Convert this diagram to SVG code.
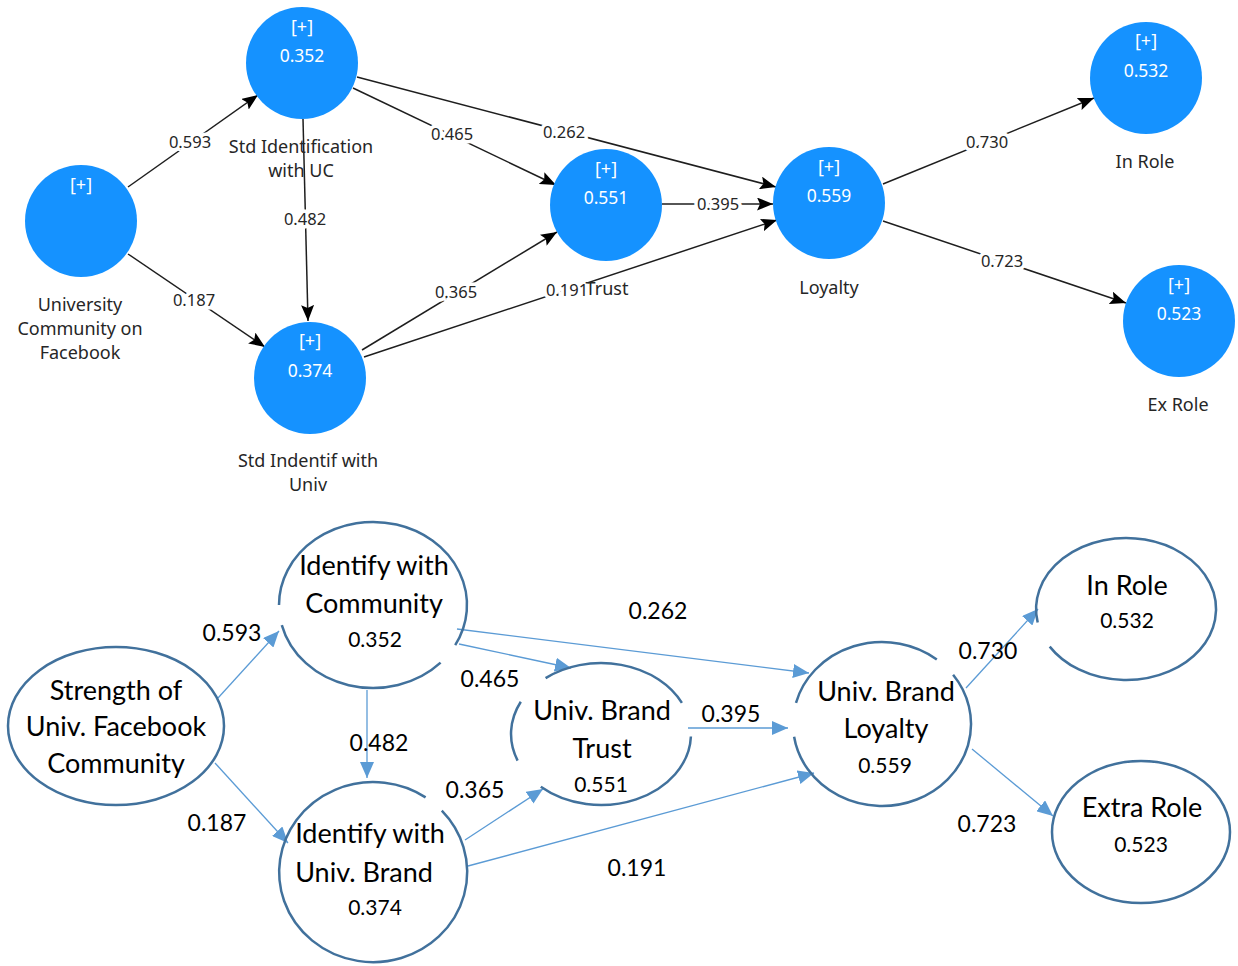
<svg xmlns="http://www.w3.org/2000/svg" width="1238" height="966" viewBox="0 0 1238 966">
<defs>
<style>
.tc{fill:#1592ff;}
.ti{font-family:"Noto Sans","Open Sans",sans-serif;font-size:17.5px;fill:#ffffff;text-anchor:middle;}
.tb{font-family:"Noto Sans","Open Sans",sans-serif;font-size:18px;fill:#ffffff;text-anchor:middle;}
.tl{font-family:"Noto Sans","Open Sans",sans-serif;font-size:18px;fill:#262626;text-anchor:middle;}
.te{font-family:"Noto Sans","Open Sans",sans-serif;font-size:16.5px;fill:#262626;text-anchor:middle;stroke:#ffffff;stroke-width:7;stroke-linejoin:round;paint-order:stroke;}
.tline{stroke:#1e1e1e;stroke-width:1.5;fill:none;marker-end:url(#ab);}
.be{fill:none;stroke:#41719c;stroke-width:2.5;}
.bn{font-family:Lato,"Open Sans",sans-serif;font-size:27px;fill:#000;text-anchor:middle;}
.bv{font-family:Lato,"Open Sans",sans-serif;font-size:21px;fill:#000;text-anchor:middle;}
.bl{font-family:Lato,"Open Sans",sans-serif;font-size:23px;fill:#000;text-anchor:middle;}
.bline{stroke:#5b9bd5;stroke-width:1.3;fill:none;marker-end:url(#aw);}
</style>
<marker id="ab" markerUnits="userSpaceOnUse" markerWidth="17" markerHeight="13" refX="16" refY="6.5" orient="auto">
<path d="M0,0 L16,6.5 L0,13 L3,6.5 z" fill="#000"/>
</marker>
<marker id="aw" markerUnits="userSpaceOnUse" markerWidth="16" markerHeight="14" refX="16" refY="7" orient="auto">
<path d="M0,0 L16,7 L0,14 z" fill="#5b9bd5"/>
</marker>
</defs>
<rect width="1238" height="966" fill="#ffffff"/>

<!-- TOP: connectors -->
<g id="top-connectors">
<line class="tline" x1="128" y1="187" x2="258" y2="95"/>
<line class="tline" x1="128" y1="254" x2="265" y2="347"/>
<line class="tline" x1="303" y1="119" x2="308" y2="321"/>
<line class="tline" x1="353" y1="88" x2="556" y2="185"/>
<line class="tline" x1="357" y1="77" x2="776" y2="187"/>
<line class="tline" x1="362" y1="350" x2="557" y2="232"/>
<line class="tline" x1="364" y1="357" x2="777" y2="220"/>
<line class="tline" x1="662" y1="204" x2="773" y2="204"/>
<line class="tline" x1="883" y1="184" x2="1094" y2="98"/>
<line class="tline" x1="883" y1="221" x2="1126" y2="303"/>
<text class="te" x="190" y="148">0.593</text>
<text class="te" x="194" y="306">0.187</text>
<text class="te" x="305" y="225">0.482</text>
<text class="te" x="452" y="140">0.465</text>
<text class="te" x="564" y="138">0.262</text>
<text class="te" x="456" y="298">0.365</text>
<text class="te" x="567" y="296">0.191</text>
<text class="te" x="718" y="210">0.395</text>
<text class="te" x="987" y="148">0.730</text>
<text class="te" x="1002" y="267">0.723</text>
</g>

<!-- TOP: nodes -->
<g id="top-ucf">
<circle class="tc" cx="81" cy="221" r="56"/>
<text class="tb" x="81" y="191">[+]</text>
<text class="tl" x="80" y="311">University</text>
<text class="tl" x="80" y="335">Community on</text>
<text class="tl" x="80" y="359">Facebook</text>
</g>
<g id="top-idc">
<circle class="tc" cx="302" cy="63" r="56"/>
<text class="tb" x="302" y="33">[+]</text>
<text class="ti" x="302" y="62">0.352</text>
<text class="tl" x="301" y="153">Std Identification</text>
<text class="tl" x="301" y="177">with UC</text>
</g>
<g id="top-idu">
<circle class="tc" cx="310" cy="378" r="56"/>
<text class="tb" x="310" y="347">[+]</text>
<text class="ti" x="310" y="377">0.374</text>
<text class="tl" x="308" y="467">Std Indentif with</text>
<text class="tl" x="308" y="491">Univ</text>
</g>
<g id="top-trust">
<circle class="tc" cx="606" cy="205" r="56"/>
<text class="tb" x="606" y="175">[+]</text>
<text class="ti" x="606" y="204">0.551</text>
<text class="tl" x="607" y="295">Trust</text>
</g>
<g id="top-loyalty">
<circle class="tc" cx="829" cy="203" r="56"/>
<text class="tb" x="829" y="173">[+]</text>
<text class="ti" x="829" y="202">0.559</text>
<text class="tl" x="829" y="294">Loyalty</text>
</g>
<g id="top-inrole">
<circle class="tc" cx="1146" cy="78" r="56"/>
<text class="tb" x="1146" y="47">[+]</text>
<text class="ti" x="1146" y="77">0.532</text>
<text class="tl" x="1145" y="168">In Role</text>
</g>
<g id="top-exrole">
<circle class="tc" cx="1179" cy="321" r="56"/>
<text class="tb" x="1179" y="291">[+]</text>
<text class="ti" x="1179" y="320">0.523</text>
<text class="tl" x="1178" y="411">Ex Role</text>
</g>

<!-- BOTTOM: connectors -->
<g id="bottom-connectors">
<line class="bline" x1="218" y1="698" x2="279" y2="631"/>
<line class="bline" x1="215" y1="763" x2="288" y2="843"/>
<line class="bline" x1="367" y1="690" x2="367" y2="778"/>
<line class="bline" x1="459" y1="644" x2="571" y2="668"/>
<line class="bline" x1="457" y1="629" x2="809" y2="673"/>
<line class="bline" x1="465" y1="840" x2="543" y2="789"/>
<line class="bline" x1="468" y1="866" x2="814" y2="773"/>
<line class="bline" x1="688" y1="728" x2="788" y2="728"/>
<line class="bline" x1="966" y1="688" x2="1038" y2="609"/>
<line class="bline" x1="972" y1="749" x2="1053" y2="816"/>
<text class="bl" x="232" y="641">0.593</text>
<text class="bl" x="217" y="831">0.187</text>
<text class="bl" x="379" y="751">0.482</text>
<text class="bl" x="490" y="687">0.465</text>
<text class="bl" x="658" y="619">0.262</text>
<text class="bl" x="475" y="798">0.365</text>
<text class="bl" x="637" y="876">0.191</text>
<text class="bl" x="731" y="722">0.395</text>
<text class="bl" x="988" y="659">0.730</text>
<text class="bl" x="987" y="832">0.723</text>
</g>

<!-- BOTTOM: nodes -->
<g id="b-strength">
<ellipse class="be" cx="116" cy="726" rx="108" ry="79"/>
<text class="bn" x="116" y="700">Strength of</text>
<text class="bn" x="116" y="736">Univ. Facebook</text>
<text class="bn" x="116" y="773">Community</text>
</g>
<g id="b-idcom">
<path class="be" d="M440.6,662.7 A94,83 0 0 1 281.8,625.1 M279,605 A94,83 0 1 1 455.2,645.2"/>
<text class="bn" x="374" y="575">Identify with</text>
<text class="bn" x="374" y="613">Community</text>
<text class="bv" x="375" y="647">0.352</text>
</g>
<g id="b-iduniv">
<path class="be" d="M441.8,810.6 A94,90 0 1 1 425.6,797.4"/>
<text class="bn" x="370" y="843">Identify with</text>
<text class="bn" x="364" y="882">Univ. Brand</text>
<text class="bv" x="375" y="915">0.374</text>
</g>
<g id="b-trust">
<path class="be" d="M690.9,736.5 A90,71 0 0 1 540.8,786.8 M517.6,760.6 A90,71 0 0 1 520.8,701.8 M545.6,678.1 A90,71 0 0 1 681.9,702.9"/>
<text class="bn" x="602" y="720">Univ. Brand</text>
<text class="bn" x="602" y="758">Trust</text>
<text class="bv" x="601" y="792">0.551</text>
</g>
<g id="b-loyalty">
<path class="be" d="M953.1,674.7 A89,82 0 1 1 794.1,736.8 M796,702.8 A89,82 0 0 1 936.8,659.4"/>
<text class="bn" x="886" y="701">Univ. Brand</text>
<text class="bn" x="886" y="738">Loyalty</text>
<text class="bv" x="885" y="773">0.559</text>
</g>
<g id="b-inrole">
<path class="be" d="M1037.7,622.5 A90,71 0 1 1 1049.7,646.6"/>
<text class="bn" x="1127" y="595">In Role</text>
<text class="bv" x="1127" y="628">0.532</text>
</g>
<g id="b-extra">
<ellipse class="be" cx="1141" cy="832" rx="89" ry="71"/>
<text class="bn" x="1142" y="817">Extra Role</text>
<text class="bv" x="1141" y="852">0.523</text>
</g>
</svg>
